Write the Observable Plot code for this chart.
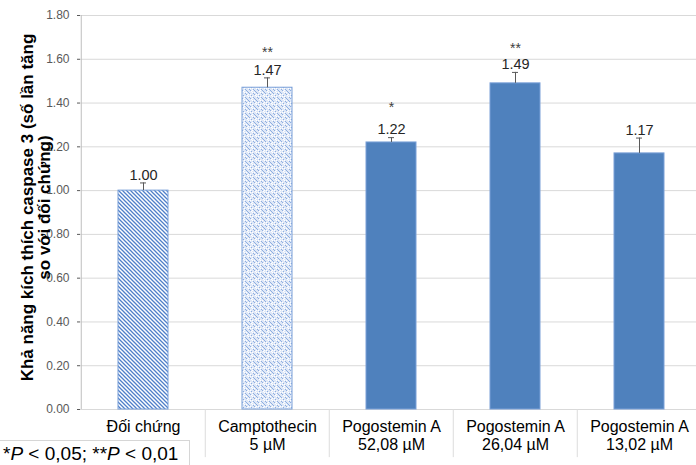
<!DOCTYPE html>
<html>
<head>
<meta charset="utf-8">
<script src="https://cdn.jsdelivr.net/npm/d3@7"></script>
<script src="https://cdn.jsdelivr.net/npm/@observablehq/plot@0.6"></script>
<style>
  html, body { margin: 0; padding: 0; background: white; }
  #wrap { position: relative; width: 696px; height: 465px; overflow: hidden; }
  #foot { position: absolute; left: 0; top: 440px; width: 190px; height: 30px; padding-left: 3px;
          border-top: 1px solid #d6d6d6; border-right: 1px solid #d6d6d6; background: white;
          font-family: "Liberation Sans", Arial, sans-serif; font-size: 19px; line-height: 22px; color: #000; padding-top: 2px; box-sizing: border-box; white-space: nowrap; }
</style>
</head>
<body>
<div id="wrap"><div id="chart"></div><div id="foot">*<i>P</i> &lt; 0,05; **<i>P</i> &lt; 0,01</div></div>
<script>
const categories = ["Đối chứng", "Camptothecin 5 µM", "Pogostemin A 52,08 µM", "Pogostemin A 26,04 µM", "Pogostemin A 13,02 µM"];
const xLabels = ["Đối chứng", "Camptothecin\n5 µM", "Pogostemin A\n52,08 µM", "Pogostemin A\n26,04 µM", "Pogostemin A\n13,02 µM"];
const values = [1.00, 1.47, 1.22, 1.49, 1.17];
const errors = [0.035, 0.045, 0.022, 0.05, 0.07];
const stars = ["", "**", "*", "**", ""];
const yTicks = [0, 0.2, 0.4, 0.6, 0.8, 1.0, 1.2, 1.4, 1.6, 1.8];
const yTitle = "Khả năng kích thích caspase 3 (số lần tăng\nso với đối chứng)";

const data = categories.map((c, i) => ({cat: c, label: xLabels[i], value: values[i], err: errors[i], star: stars[i]}));

const chart = Plot.plot({
  width: 696,
  height: 465,
  marginLeft: 80,
  marginRight: 0,
  marginTop: 15,
  marginBottom: 56,
  x: {domain: categories, range: [80, 702.5], paddingInner: 0.6, paddingOuter: 0.3, axis: null},
  y: {domain: [0, 1.8], ticks: yTicks, tickFormat: d3.format(".2f"), tickSize: 3, tickPadding: 8, label: null},
  color: {domain: categories, range: ["url(#hatch)", "url(#weave)", "#4f81bd", "#4f81bd", "#4f81bd"]},
  style: {fontFamily: "Liberation Sans, Arial, sans-serif", fontSize: "12px", color: "#595959", background: "white", overflow: "visible"},
  marks: [
    Plot.ruleY(yTicks, {stroke: "#d9d9d9", strokeWidth: 1}),
    Plot.ruleX([categories[0]], {x: d => d, dx: -62.25, y1: 0, y2: 1.8, stroke: "#bfbfbf"}),
    Plot.ruleX(categories.slice(1), {x: d => d, dx: -62.25, y1: 0, y2: -0.22, stroke: "#dcdcdc"}),
    Plot.barY(data, {x: "cat", y: "value", fill: "cat", stroke: "#7aa0d8", strokeWidth: 1}),
    Plot.ruleX(data, {x: "cat", y1: "value", y2: d => d.value + d.err, stroke: "#595959"}),
    Plot.tickY(data, {x: "cat", y: d => d.value + d.err, insetLeft: 22, insetRight: 22, stroke: "#595959"}),
    Plot.text(data, {x: "cat", y: d => d.value + d.err, text: d => d.value.toFixed(2), dy: -8, fontSize: 14.5, fill: "#262626"}),
    Plot.text(data, {x: "cat", y: "value", text: "star", dy: -35, fontSize: 14, fill: "#404040"}),
    Plot.text(data, {x: "cat", y: 0, text: "label", lineAnchor: "top", dy: 10, fontSize: 16, lineHeight: 1.125, fill: "#000"}),
    Plot.text([yTitle], {frameAnchor: "left", text: d => d, textAnchor: "middle", rotate: -90, dx: -44, dy: -5, fontSize: 17, fontWeight: "bold", lineHeight: 1.0, fill: "#000"})
  ]
});

const defs = d3.create("svg:defs");
const hatch = defs.append("pattern").attr("id", "hatch").attr("patternUnits", "userSpaceOnUse").attr("width", 4).attr("height", 4);
hatch.append("rect").attr("width", 4).attr("height", 4).attr("fill", "#ffffff");
hatch.append("path").attr("d", "M0,0L4,4M-1,3L1,5M3,-1L5,1").attr("stroke", "#4f7fc9").attr("stroke-width", 1.3);
const weave = defs.append("pattern").attr("id", "weave").attr("patternUnits", "userSpaceOnUse").attr("width", 8).attr("height", 8);
weave.append("rect").attr("width", 8).attr("height", 8).attr("fill", "#dfe8f7");
[[0,0],[1,1],[2,2],[4,0],[5,1],[6,2],[3,3],[7,3],[0,4],[4,4],[1,5],[5,5],[2,6],[6,6],[3,7],[7,7]].forEach(([x, y], i) => {
  weave.append("rect").attr("x", x).attr("y", y).attr("width", 1).attr("height", 1).attr("fill", i % 3 === 0 ? "#ffffff" : "#8eaee0");
});
[[2,0],[6,4],[0,6],[4,2]].forEach(([x, y]) => weave.append("rect").attr("x", x).attr("y", y).attr("width", 1).attr("height", 1).attr("fill", "#ffffff"));
chart.insertBefore(defs.node(), chart.firstChild);

document.getElementById("chart").appendChild(chart);
</script>
</body>
</html>
